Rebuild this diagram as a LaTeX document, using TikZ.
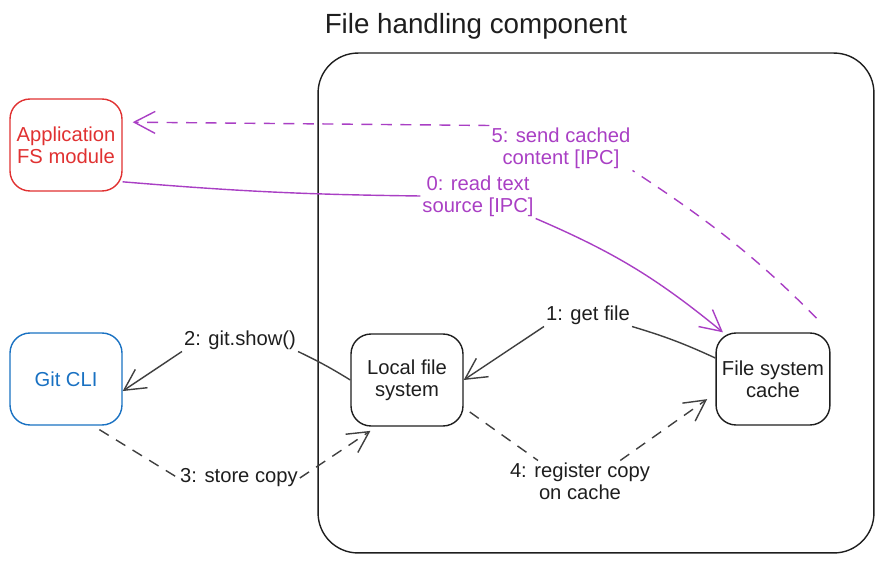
\documentclass[tikz,border=0pt]{standalone}
\usepackage{fontspec}
\setmainfont{Liberation Sans}
\usetikzlibrary{arrows.meta}

\definecolor{ink}{HTML}{1E1E1E}
\definecolor{fsred}{HTML}{E03131}
\definecolor{gitblue}{HTML}{1971C2}
\definecolor{ipc}{HTML}{A93FC4}

\tikzset{
	box/.style={shape=rectangle,rounded corners=0.4cm,draw=ink,line width=0.8pt,
		minimum width=2.24cm,minimum height=1.84cm,align=center,text=ink,
		font=\fontsize{11.5}{12.5}\selectfont},
	lbl/.style={align=center,inner sep=1pt,text=ink,font=\fontsize{11.5}{12.5}\selectfont},
	msg/.style={draw=ink!85,line width=0.8pt},
	ipcmsg/.style={draw=ipc,line width=0.8pt},
	tip/.style={-{Straight Barb[length=4.2mm,width=4.4mm,line width=0.8pt]}},
	later/.style={dash pattern=on 2.2mm off 1.7mm}
}

\begin{document}
\begin{tikzpicture}[x=0.02cm,y=-0.02cm]
	\useasboundingbox (0,0) rectangle (883,564);
	\node[text=ink,font=\fontsize{15.8}{18}\selectfont] (title) at (476,26) {File handling component};
	\node[shape=rectangle,rounded corners=0.8cm,draw=ink,line width=0.8pt,
		minimum width=11.12cm,minimum height=10cm] (fhc) at (596,303) {};
	\node[box,draw=fsred,text=fsred]     (app) at (66,145)  {Application\\FS module};
	\node[box,draw=gitblue,text=gitblue] (git) at (66,379)  {Git CLI};
	\node[box]                           (lfs) at (407,380) {Local file\\system};
	\node[box]                           (fsc) at (773,379) {File system\\cache};
	\node[lbl,text=ipc] (l0) at (478,196) {0: read text\\source [IPC]};
	\node[lbl] (l1) at (588,315) {1: get file};
	\node[lbl] (l2) at (240,340) {2: git.show()};
	\node[lbl] (l3) at (239,478) {3: store copy};
	\node[lbl] (l4) at (580,481) {4: register copy\\on cache};
	\node[lbl,text=ipc] (l5) at (561,148) {5: send cached\\content [IPC]};
	\draw[ipcmsg] (app.-33) to[bend right=2] (l0.west);
	\draw[ipcmsg,tip] (l0.south east) to[bend left=8] (fsc.137);
	\draw[msg] (fsc.160) to[bend right=4] (l1.south east);
	\draw[msg,tip] (l1.south west) -- (lfs.east);
	\draw[msg] (lfs.180) to[bend right=3] (l2.south east);
	\draw[msg,tip] (l2.south west) -- (git.-12);
	\draw[msg,later,shorten <=1.5mm] (git.-60) -- (l3.west);
	\draw[msg,later,tip,shorten >=1.5mm] (l3.east) -- (lfs.-123);
	\draw[msg,later,shorten <=1.5mm] (lfs.-26) -- (l4.154);
	\draw[msg,later,tip,shorten >=2mm] (l4.27) -- (fsc.-166);
	\draw[ipcmsg,later,shorten <=4mm] (fsc.north east) to[bend right=6] (l5.south east);
	\draw[ipcmsg,later,tip,shorten >=2mm] (l5.north west) -- (app.22);
\end{tikzpicture}
\end{document}
